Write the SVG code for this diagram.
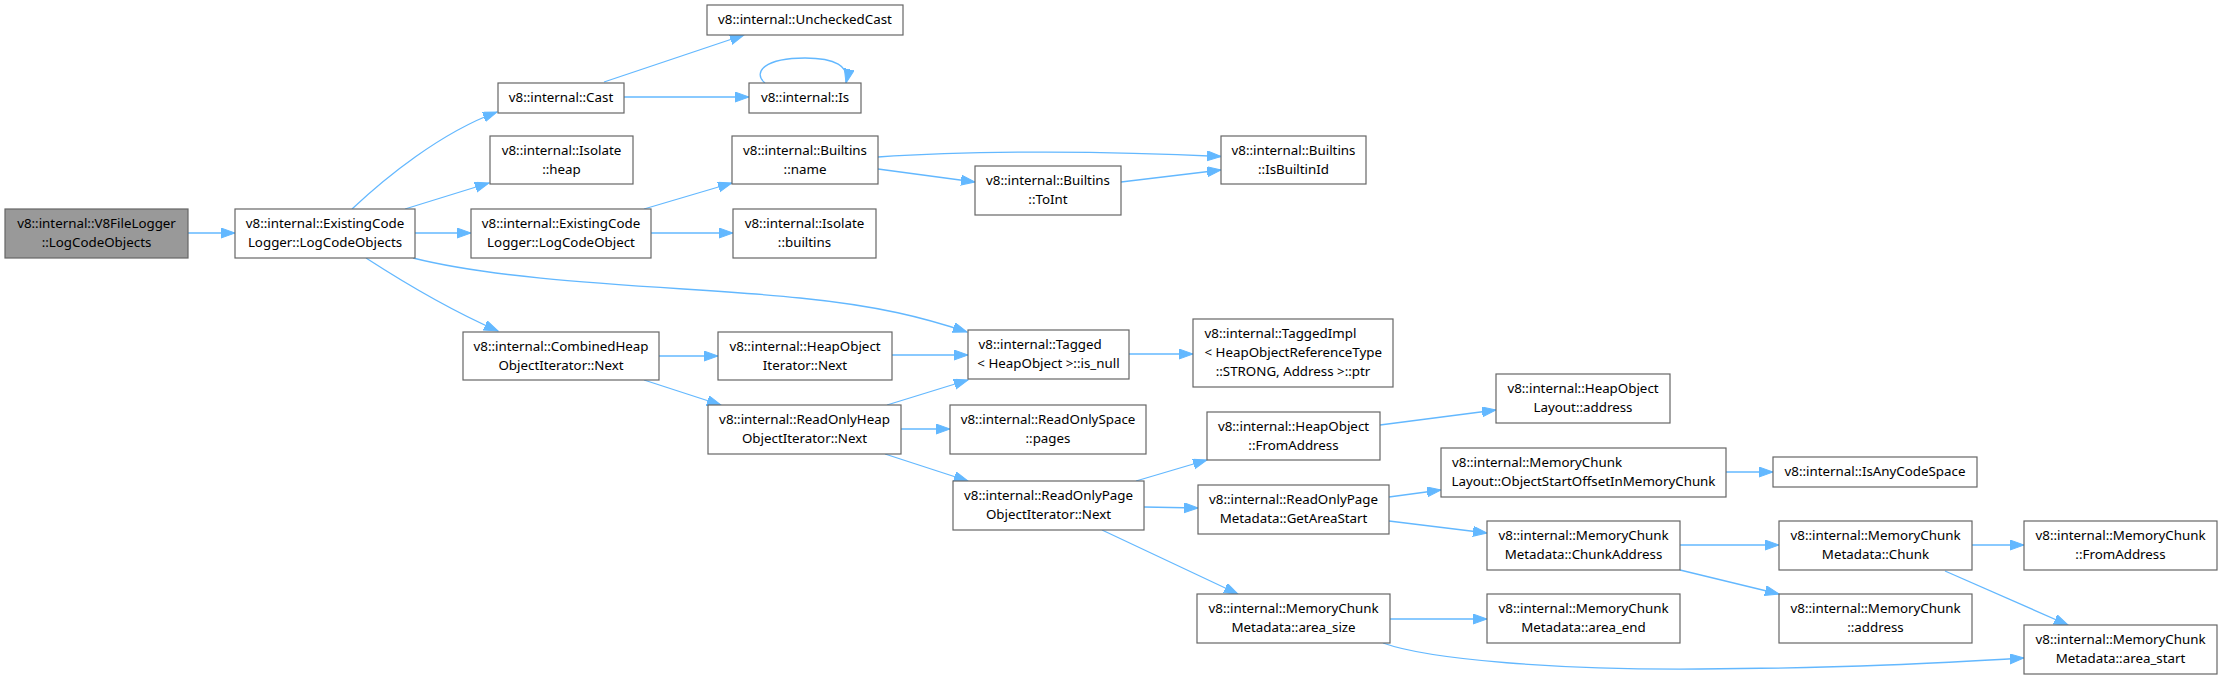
<svg xmlns="http://www.w3.org/2000/svg" width="2223" height="679" viewBox="0 0 2223 679">
<style>
.n rect{fill:#fff;stroke:#666;stroke-width:1.2}
.root rect{fill:#999}
text{font-family:"Noto Sans","DejaVu Sans",sans-serif;font-size:13.33px;fill:#000;text-anchor:middle}
text.l{text-anchor:start}
.e path{fill:none;stroke:#63b8ff;stroke-width:1.3;marker-end:url(#ah)}
</style>
<defs>
<marker id="ah" markerUnits="userSpaceOnUse" markerWidth="15" markerHeight="11" refX="14" refY="5" orient="auto">
<path d="M0,0 L14,5 L0,10 z" fill="#63b8ff" stroke="#63b8ff" stroke-width="1"/>
</marker>
</defs>
<rect width="2223" height="679" fill="#fff"/>
<g id="edges" class="e">
<path d="M188,233 L235,233"/>
<path d="M352,209 C385,178 440,133 497,112"/>
<path d="M405,209 L489,183"/>
<path d="M415,233 L471,233"/>
<path d="M413,258 C520,285 700,287 800,298 C880,306 925,318 967,332"/>
<path d="M366,258 C400,280 450,310 498,331"/>
<path d="M604,82 L744,35"/>
<path d="M624,97 L749,97"/>
<path d="M765,83 C752,72 765,58 805,58 C835,58 850,66 846,83"/>
<path d="M644,209 L732,183"/>
<path d="M651,233 L733,233"/>
<path d="M878,157 C980,150 1110,151 1221,156.5"/>
<path d="M878,169 L975,182"/>
<path d="M1121,182 L1221,170"/>
<path d="M659,356 L718,356"/>
<path d="M644,380 L721,405"/>
<path d="M892,355 L968,355"/>
<path d="M887,405 L968,380"/>
<path d="M901,429 L950,429"/>
<path d="M885,454 L968,481"/>
<path d="M1129,354 L1193,354"/>
<path d="M1136,481 L1207,460"/>
<path d="M1144,507 L1198,508"/>
<path d="M1102,530 L1238,594"/>
<path d="M1380,425 L1496,410"/>
<path d="M1389,497 L1441,490"/>
<path d="M1389,521 L1487,533"/>
<path d="M1390,619 L1487,619"/>
<path d="M1383,643 C1430,660 1560,670 1700,669 C1850,668 1940,663 2024,658"/>
<path d="M1726,472 L1773,472"/>
<path d="M1680,545 L1779,545"/>
<path d="M1680,570 L1779,594"/>
<path d="M1972,545 L2024,545"/>
<path d="M1945,571 L2068,625"/>
</g>
<g id="n0" class="n root"><rect x="5" y="209" width="183" height="49"/><text x="96.5" y="227.5">v8::internal::V8FileLogger</text><text x="96.5" y="246.5">::LogCodeObjects</text></g>
<g id="n1" class="n"><rect x="235" y="209" width="180" height="49"/><text x="325" y="227.5">v8::internal::ExistingCode</text><text x="325" y="246.5">Logger::LogCodeObjects</text></g>
<g id="n2" class="n"><rect x="498" y="83" width="126" height="30"/><text x="561" y="101.5">v8::internal::Cast</text></g>
<g id="n3" class="n"><rect x="707" y="5" width="196" height="30"/><text x="805" y="23.5">v8::internal::UncheckedCast</text></g>
<g id="n4" class="n"><rect x="749" y="83" width="112" height="30"/><text x="805" y="101.5">v8::internal::Is</text></g>
<g id="n5" class="n"><rect x="490" y="136" width="143" height="48"/><text x="561.5" y="154.5">v8::internal::Isolate</text><text x="561.5" y="173.5">::heap</text></g>
<g id="n6" class="n"><rect x="471" y="209" width="180" height="49"/><text x="561" y="227.5">v8::internal::ExistingCode</text><text x="561" y="246.5">Logger::LogCodeObject</text></g>
<g id="n7" class="n"><rect x="732" y="136" width="146" height="48"/><text x="805" y="154.5">v8::internal::Builtins</text><text x="805" y="173.5">::name</text></g>
<g id="n8" class="n"><rect x="733" y="209" width="143" height="49"/><text x="804.5" y="227.5">v8::internal::Isolate</text><text x="804.5" y="246.5">::builtins</text></g>
<g id="n9" class="n"><rect x="1221" y="136" width="145" height="48"/><text x="1293.5" y="154.5">v8::internal::Builtins</text><text x="1293.5" y="173.5">::IsBuiltinId</text></g>
<g id="n10" class="n"><rect x="975" y="166" width="146" height="49"/><text x="1048" y="184.5">v8::internal::Builtins</text><text x="1048" y="203.5">::ToInt</text></g>
<g id="n11" class="n"><rect x="463" y="332" width="196" height="48"/><text x="561" y="350.5">v8::internal::CombinedHeap</text><text x="561" y="369.5">ObjectIterator::Next</text></g>
<g id="n12" class="n"><rect x="718" y="332" width="174" height="48"/><text x="805" y="350.5">v8::internal::HeapObject</text><text x="805" y="369.5">Iterator::Next</text></g>
<g id="n13" class="n"><rect x="708" y="405" width="193" height="49"/><text x="804.5" y="423.5">v8::internal::ReadOnlyHeap</text><text x="804.5" y="442.5">ObjectIterator::Next</text></g>
<g id="n14" class="n"><rect x="968" y="330" width="161" height="49"/><text class="l" x="978.5" y="348.5">v8::internal::Tagged</text><text x="1048.5" y="367.5">&lt; HeapObject &gt;::is_null</text></g>
<g id="n15" class="n"><rect x="1193" y="319" width="200" height="68"/><text class="l" x="1204.5" y="338">v8::internal::TaggedImpl</text><text class="l" x="1204.5" y="357">&lt; HeapObjectReferenceType</text><text x="1293" y="376">::STRONG, Address &gt;::ptr</text></g>
<g id="n16" class="n"><rect x="950" y="405" width="196" height="49"/><text x="1048" y="423.5">v8::internal::ReadOnlySpace</text><text x="1048" y="442.5">::pages</text></g>
<g id="n17" class="n"><rect x="953" y="481" width="191" height="49"/><text x="1048.5" y="499.5">v8::internal::ReadOnlyPage</text><text x="1048.5" y="518.5">ObjectIterator::Next</text></g>
<g id="n18" class="n"><rect x="1207" y="412" width="173" height="48"/><text x="1293.5" y="430.5">v8::internal::HeapObject</text><text x="1293.5" y="449.5">::FromAddress</text></g>
<g id="n19" class="n"><rect x="1198" y="485" width="191" height="49"/><text x="1293.5" y="503.5">v8::internal::ReadOnlyPage</text><text x="1293.5" y="522.5">Metadata::GetAreaStart</text></g>
<g id="n20" class="n"><rect x="1197" y="594" width="193" height="49"/><text x="1293.5" y="612.5">v8::internal::MemoryChunk</text><text x="1293.5" y="631.5">Metadata::area_size</text></g>
<g id="n21" class="n"><rect x="1496" y="374" width="174" height="49"/><text x="1583" y="392.5">v8::internal::HeapObject</text><text x="1583" y="411.5">Layout::address</text></g>
<g id="n22" class="n"><rect x="1441" y="448" width="285" height="49"/><text class="l" x="1452" y="466.5">v8::internal::MemoryChunk</text><text x="1583.5" y="485.5">Layout::ObjectStartOffsetInMemoryChunk</text></g>
<g id="n23" class="n"><rect x="1773" y="457" width="204" height="30"/><text x="1875" y="476">v8::internal::IsAnyCodeSpace</text></g>
<g id="n24" class="n"><rect x="1487" y="521" width="193" height="49"/><text x="1583.5" y="539.5">v8::internal::MemoryChunk</text><text x="1583.5" y="558.5">Metadata::ChunkAddress</text></g>
<g id="n25" class="n"><rect x="1487" y="594" width="193" height="49"/><text x="1583.5" y="612.5">v8::internal::MemoryChunk</text><text x="1583.5" y="631.5">Metadata::area_end</text></g>
<g id="n26" class="n"><rect x="1779" y="521" width="193" height="49"/><text x="1875.5" y="539.5">v8::internal::MemoryChunk</text><text x="1875.5" y="558.5">Metadata::Chunk</text></g>
<g id="n27" class="n"><rect x="1779" y="594" width="193" height="49"/><text x="1875.5" y="612.5">v8::internal::MemoryChunk</text><text x="1875.5" y="631.5">::address</text></g>
<g id="n28" class="n"><rect x="2024" y="521" width="193" height="49"/><text x="2120.5" y="539.5">v8::internal::MemoryChunk</text><text x="2120.5" y="558.5">::FromAddress</text></g>
<g id="n29" class="n"><rect x="2024" y="625" width="193" height="49"/><text x="2120.5" y="643.5">v8::internal::MemoryChunk</text><text x="2120.5" y="662.5">Metadata::area_start</text></g>
</svg>
